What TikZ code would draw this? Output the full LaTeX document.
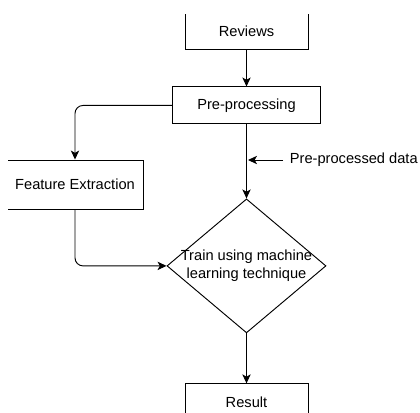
\documentclass[tikz,border=0pt]{standalone}
\usepackage{fontspec}
\setmainfont{Liberation Sans}
\usetikzlibrary{arrows.meta,positioning,shapes.geometric}

\begin{document}
\begin{tikzpicture}[
  x=0.03cm, y=-0.03cm,
  node distance=1.11cm,
  box/.style={draw,line width=0.8pt,align=center,inner sep=0pt,
              font=\fontsize{12.5}{15.3}\selectfont},
  decision/.style={draw,diamond,line width=0.8pt,inner sep=0pt,
              minimum width=4.77cm,minimum height=4.02cm},
  flow/.style={->,line width=0.8pt,rounded corners=0.24cm},
  >={Stealth[length=2.7mm,width=2.5mm,inset=0.7mm]}]
\useasboundingbox (0,0) rectangle (420,412);
\clip (8,14.6) rectangle (420,412);
\node[box,minimum width=3.69cm,minimum height=1.08cm] (reviews) at (246.5,31) {Reviews};
\node[box,minimum width=4.44cm,minimum height=1.11cm,below=1.11cm of reviews] (pre) {Pre-processing};
\node[decision,below=2.22cm of pre,
      label={[font=\fontsize{12.5}{15.3}\selectfont,align=center]center:Train using machine\\learning technique}] (train) {};
\node[box,minimum width=3.69cm,minimum height=1.08cm,below=1.5cm of train] (result) {Result};
\node[box,minimum width=4.08cm,minimum height=1.47cm] (feature) at (75,184.5) {Feature Extraction};
\node[anchor=west,inner sep=0.2cm,font=\fontsize{12.5}{15.3}\selectfont] (ppdata) at (283,160) {Pre-processed data};
\coordinate (ppend) at (248,160);
\draw[flow] (reviews) -- (pre);
\draw[flow] (pre.west) -| (feature.north);
\draw[flow] (pre) -- (train);
\draw[flow] (ppdata.west) -- (ppend);
\draw[flow] (feature.south) |- (train.west);
\draw[flow] (train) -- (result);
\end{tikzpicture}
\end{document}
